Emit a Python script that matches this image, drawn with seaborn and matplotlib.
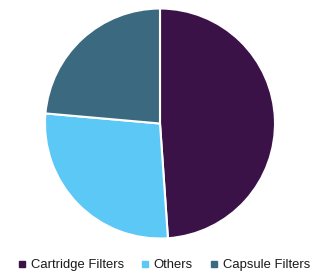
import matplotlib
matplotlib.use("Agg")
import matplotlib.pyplot as plt
from matplotlib.lines import Line2D
import seaborn as sns

categories = ["Cartridge Filters", "Others", "Capsule Filters"]
shares = [48.9, 27.5, 23.6]
colors = ["#3a1248", "#5bc8f5", "#3b6a80"]

sns.set_theme(style="white")
plt.rcParams['font.family'] = ['Liberation Sans', 'DejaVu Sans']
palette = sns.color_palette(colors)

W, H = 329, 273
fig = plt.figure(figsize=(W / 100, H / 100), dpi=100)
cx, cy, r = 160, 123.5, 115
ax = fig.add_axes([(cx - r) / W, (H - cy - r) / H, 2 * r / W, 2 * r / H])
ax.pie(shares, colors=palette, startangle=90, counterclock=False,
       wedgeprops=dict(edgecolor="white", linewidth=1.5))
ax.set_xlim(-1.0, 1.0)
ax.set_ylim(-1.0, 1.0)
ax.set_aspect("equal")
ax.axis("off")

handles = [Line2D([], [], marker="s", linestyle="none", markersize=4.5,
                  markerfacecolor=c, markeredgecolor=c) for c in palette]
fig.legend(handles, categories, loc="center", bbox_to_anchor=(0.495, (H - 265) / H),
           ncol=3, frameon=False, fontsize=9.4, handletextpad=0.15,
           columnspacing=1.15, handlelength=1.0, labelcolor="#1a1a1a")

fig.savefig("out.png", dpi=100, facecolor="white")
